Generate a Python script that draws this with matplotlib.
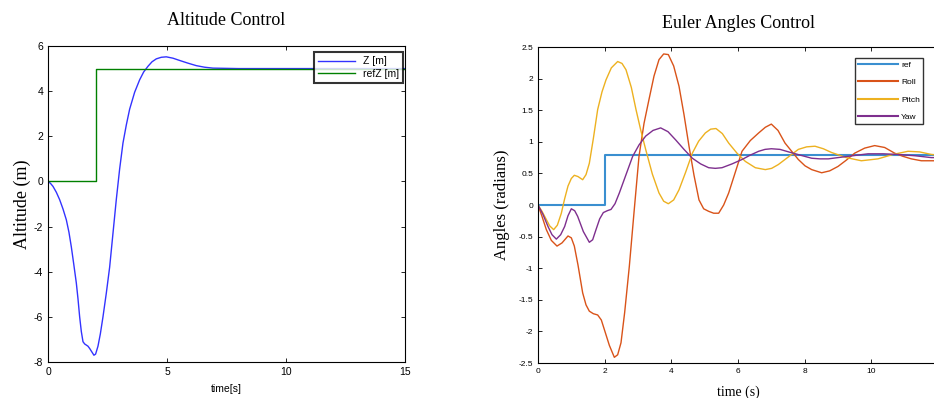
import matplotlib.pyplot as plt
import numpy as np

# Altitude control
t_z = [0, 0.1, 0.21, 0.35, 0.49, 0.63, 0.77, 0.88, 0.98, 1.08, 1.19, 1.26, 1.33, 1.40, 1.47, 1.54, 1.61,
       1.68, 1.75, 1.84, 1.93, 2.0, 2.1, 2.2, 2.31, 2.45, 2.59, 2.73, 2.87, 3.01, 3.15, 3.29, 3.43, 3.64,
       3.85, 4.02, 4.2, 4.37, 4.55, 4.76, 4.97, 5.25, 5.53, 5.88, 6.23, 6.58, 6.93, 8, 10, 12, 15]
z = [0, -0.08, -0.22, -0.48, -0.81, -1.22, -1.7, -2.25, -2.9, -3.65, -4.5, -5.2, -6.0, -6.65, -7.1, -7.2, -7.25,
     -7.3, -7.4, -7.55, -7.7, -7.65, -7.3, -6.75, -6.0, -4.95, -3.8, -2.3, -0.8, 0.55, 1.7, 2.5, 3.2, 3.95,
     4.5, 4.85, 5.1, 5.3, 5.43, 5.5, 5.52, 5.46, 5.36, 5.24, 5.13, 5.06, 5.02, 5.0, 5.0, 5.0, 5.0]
t_ref_z = [0, 2, 2, 15]
ref_z = [0, 0, 5, 5]

# Euler angles control
t_ref = [0, 2, 2, 12]
ref = [0, 0, 0.785, 0.785]

t_roll = [0, 0.12, 0.25, 0.4, 0.57, 0.72, 0.9, 1.0, 1.09, 1.2, 1.34, 1.44, 1.54, 1.66, 1.79, 1.9, 1.99,
          2.14, 2.29, 2.39, 2.49, 2.6, 2.74, 2.88, 3.03, 3.18, 3.33, 3.48, 3.63, 3.77, 3.91, 4.07, 4.23,
          4.38, 4.53, 4.68, 4.83, 4.97, 5.12, 5.27, 5.42, 5.57, 5.72, 5.92, 6.12, 6.37, 6.62, 6.82, 7.0,
          7.2, 7.41, 7.61, 7.81, 8.01, 8.21, 8.51, 8.75, 9.0, 9.25, 9.5, 9.8, 10.1, 10.4, 10.7, 10.95,
          11.2, 11.5, 11.8, 12]
roll = [0, -0.18, -0.39, -0.56, -0.65, -0.6, -0.49, -0.52, -0.65, -0.95, -1.39, -1.58, -1.68, -1.72, -1.74,
        -1.82, -1.97, -2.22, -2.41, -2.37, -2.18, -1.7, -0.97, -0.12, 0.77, 1.29, 1.67, 2.04, 2.3, 2.39,
        2.38, 2.2, 1.88, 1.43, 0.93, 0.47, 0.08, -0.06, -0.1, -0.13, -0.13, 0.0, 0.19, 0.52, 0.85, 1.02,
        1.14, 1.23, 1.28, 1.18, 0.98, 0.85, 0.72, 0.62, 0.56, 0.51, 0.54, 0.61, 0.71, 0.82, 0.9, 0.94,
        0.91, 0.82, 0.77, 0.73, 0.7, 0.7, 0.7]

t_pitch = [0, 0.12, 0.25, 0.35, 0.47, 0.58, 0.7, 0.8, 0.9, 1.0, 1.09, 1.2, 1.34, 1.44, 1.54, 1.66, 1.79,
           1.92, 2.04, 2.2, 2.39, 2.52, 2.64, 2.8, 2.94, 3.08, 3.23, 3.43, 3.63, 3.77, 3.91, 4.07, 4.23,
           4.43, 4.63, 4.82, 5.02, 5.18, 5.34, 5.53, 5.72, 5.97, 6.22, 6.52, 6.82, 7.01, 7.21, 7.51, 7.81,
           8.06, 8.31, 8.56, 8.81, 9.25, 9.7, 10.2, 10.65, 11.1, 11.45, 11.8, 12]
pitch = [0, -0.1, -0.23, -0.33, -0.39, -0.32, -0.13, 0.1, 0.3, 0.42, 0.47, 0.45, 0.4, 0.48, 0.66, 1.05,
         1.51, 1.79, 1.98, 2.17, 2.27, 2.24, 2.14, 1.86, 1.51, 1.19, 0.88, 0.49, 0.19, 0.06, 0.02, 0.08,
         0.24, 0.52, 0.82, 1.01, 1.14, 1.2, 1.21, 1.13, 0.98, 0.82, 0.69, 0.59, 0.56, 0.58, 0.64, 0.76,
         0.88, 0.92, 0.93, 0.89, 0.83, 0.75, 0.7, 0.73, 0.8, 0.85, 0.84, 0.8, 0.79]

t_yaw = [0, 0.15, 0.3, 0.42, 0.55, 0.68, 0.8, 0.9, 1.0, 1.1, 1.19, 1.36, 1.54, 1.64, 1.74, 1.85, 1.96,
         2.08, 2.19, 2.31, 2.44, 2.64, 2.84, 3.03, 3.23, 3.45, 3.68, 3.9, 4.13, 4.38, 4.63, 4.88, 5.12,
         5.32, 5.52, 5.82, 6.12, 6.37, 6.62, 6.81, 7.0, 7.26, 7.52, 7.86, 8.21, 8.46, 8.71, 9.0, 9.3,
         9.6, 9.9, 10.35, 10.8, 11.3, 11.8, 12]
yaw = [0, -0.15, -0.34, -0.47, -0.54, -0.47, -0.34, -0.17, -0.06, -0.09, -0.18, -0.42, -0.59, -0.55,
       -0.39, -0.22, -0.12, -0.09, -0.07, 0.02, 0.19, 0.48, 0.77, 0.95, 1.09, 1.18, 1.22, 1.16, 1.03,
       0.88, 0.74, 0.65, 0.59, 0.58, 0.59, 0.65, 0.72, 0.79, 0.85, 0.88, 0.89, 0.88, 0.84, 0.79, 0.74,
       0.73, 0.73, 0.75, 0.77, 0.79, 0.81, 0.81, 0.8, 0.78, 0.75, 0.75]

sans = 'Liberation Sans'
serif = 'Liberation Serif'
plt.rcParams['axes.unicode_minus'] = False

fig = plt.figure(figsize=(9.34, 3.98), dpi=100)

# ---- left: altitude ----
ax1 = fig.add_axes([48 / 934, 1 - 362 / 398, 357 / 934, 316 / 398])
ax1.plot(t_z, z, color='#3333ff', lw=1.0, label='Z [m]')
ax1.plot(t_ref_z, ref_z, color='#008000', lw=1.0, label='refZ [m]')
ax1.set_xlim(0, 15)
ax1.set_ylim(-8, 6)
ax1.set_xticks([0, 5, 10, 15])
ax1.set_yticks(np.arange(-8, 7, 2))
ax1.tick_params(direction='in', top=True, right=True, labelsize=7.5, length=3, width=0.6)
for lab in ax1.get_xticklabels() + ax1.get_yticklabels():
    lab.set_family(sans)
for s in ax1.spines.values():
    s.set_linewidth(0.8)
ax1.set_title('Altitude Control', family=serif, fontsize=13, pad=15)
ax1.set_xlabel('time[s]', family=sans, fontsize=7.5, labelpad=5)
ax1.set_ylabel('Altitude (m)', family=serif, fontsize=13, labelpad=2)
leg1 = ax1.legend(loc='upper right', bbox_to_anchor=(0.995, 0.98), prop={'family': sans, 'size': 7.5},
                  frameon=True, fancybox=False, edgecolor='black', handlelength=3.5,
                  borderpad=0.4, labelspacing=0.25, borderaxespad=0)
leg1.get_frame().set_linewidth(1.5)

# ---- right: euler angles ----
ax2 = fig.add_axes([538 / 934, 1 - 363 / 398, 400 / 934, 316 / 398])
ax2.plot(t_ref, ref, color='#3a8fd0', lw=1.5, label='ref')
ax2.plot(t_roll, roll, color='#D95319', lw=1.0, label='Roll')
ax2.plot(t_pitch, pitch, color='#EDB120', lw=1.0, label='Pitch')
ax2.plot(t_yaw, yaw, color='#7E2F8E', lw=1.0, label='Yaw')
ax2.set_xlim(0, 12)
ax2.set_ylim(-2.5, 2.5)
ax2.set_xticks([0, 2, 4, 6, 8, 10, 12])
ax2.set_xticklabels(['0', '2', '4', '6', '8', '10', ''])
ax2.set_yticks(np.arange(-2.5, 2.6, 0.5))
ax2.set_yticklabels(['-2.5', '-2', '-1.5', '-1', '-0.5', '0', '0.5', '1', '1.5', '2', '2.5'])
ax2.tick_params(direction='in', top=True, right=True, labelsize=6, length=3, width=0.6)
for lab in ax2.get_xticklabels() + ax2.get_yticklabels():
    lab.set_family(sans)
for s in ax2.spines.values():
    s.set_linewidth(0.8)
ax2.set_title('Euler Angles Control', family=serif, fontsize=13, pad=14)
ax2.set_xlabel('time (s)', family=serif, fontsize=10, labelpad=8)
ax2.set_ylabel('Angles (radians)', family=serif, fontsize=12, labelpad=6)
leg2 = ax2.legend(loc='upper left', bbox_to_anchor=(317 / 400, 0.965), prop={'family': sans, 'size': 6},
                  frameon=True, fancybox=False, edgecolor='black', handlelength=4.8,
                  borderpad=0.35, labelspacing=1.15, borderaxespad=0, handletextpad=0.4)
leg2.get_frame().set_linewidth(1.0)
for line in leg2.get_lines():
    line.set_linewidth(1.5)

fig.savefig('out.png', dpi=100)
